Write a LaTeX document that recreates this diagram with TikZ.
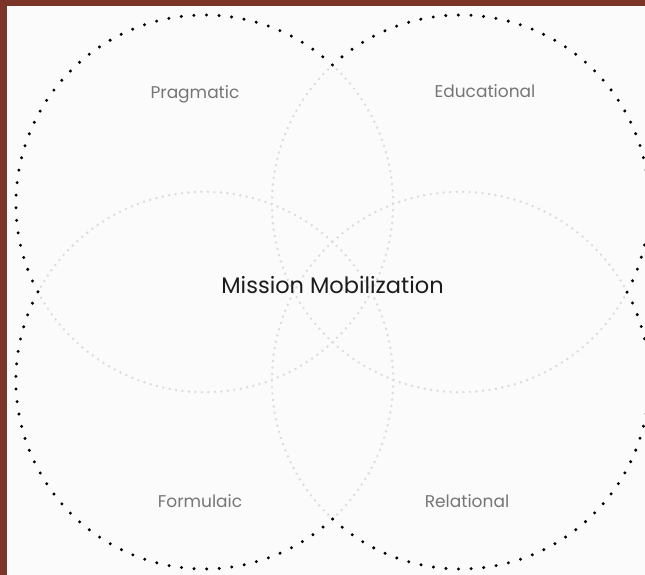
\documentclass[tikz,border=0pt]{standalone}
\usepackage{fontspec}
\setmainfont{Poppins}
\definecolor{framered}{RGB}{122,52,40}
\definecolor{paper}{RGB}{251,251,251}
\definecolor{innergray}{RGB}{220,220,220}
\definecolor{labelgray}{RGB}{118,118,118}
\definecolor{titleink}{RGB}{28,28,28}
\begin{document}
\begin{tikzpicture}[x=1pt,y=1pt,
  outerdots/.style={line width=3.3pt, line cap=round, dash pattern=on 0pt off 12.6pt, black},
  innerdots/.style={line width=2.7pt, line cap=round, dash pattern=on 0pt off 6.5pt, innergray},
  lbl/.style={text=labelgray, anchor=base, inner sep=0pt, font=\fontsize{17}{20}\selectfont},
  ttl/.style={text=titleink, anchor=base, inner sep=0pt, font=\fontsize{22.5}{26}\selectfont}]
\useasboundingbox (0,0) rectangle (645,575);
\fill[framered] (0,0) rectangle (645,575);
\fill[paper] (7,0) rectangle (645,569);
\clip (7,0) rectangle (645,569);
\def\R{188.6}
\coordinate (TL) at (204.5,371.4);
\coordinate (TR) at (460.5,371.4);
\coordinate (BL) at (204.5,194.6);
\coordinate (BR) at (460.5,194.6);
% inner (light grey) arcs
\draw[innerdots] ([shift={(208:\R)}]TL) arc[start angle=208, end angle=407.3, radius=\R];
\draw[innerdots] ([shift={(132.7:\R)}]TR) arc[start angle=132.7, end angle=332, radius=\R];
\draw[innerdots] ([shift={(312.7:\R)}]BL) arc[start angle=312.7, end angle=512, radius=\R];
\draw[innerdots] ([shift={(28:\R)}]BR) arc[start angle=28, end angle=227.3, radius=\R];
% outer (black) arcs
\draw[outerdots] ([shift={(47.3:\R)}]TL) arc[start angle=47.3, end angle=208, radius=\R];
\draw[outerdots] ([shift={(-28:\R)}]TR) arc[start angle=-28, end angle=132.7, radius=\R];
\draw[outerdots] ([shift={(152:\R)}]BL) arc[start angle=152, end angle=312.7, radius=\R];
\draw[outerdots] ([shift={(227.3:\R)}]BR) arc[start angle=227.3, end angle=388, radius=\R];
% labels
\node[lbl] (prag) at (195,476) {Pragmatic};
\node[lbl] (edu) at (485,477) {Educational};
\node[lbl] (form) at (200,67) {Formulaic};
\node[lbl] (rel) at (467,67) {Relational};
\node[ttl] (mm) at (332.5,281) {Mission Mobilization};
\end{tikzpicture}
\end{document}
